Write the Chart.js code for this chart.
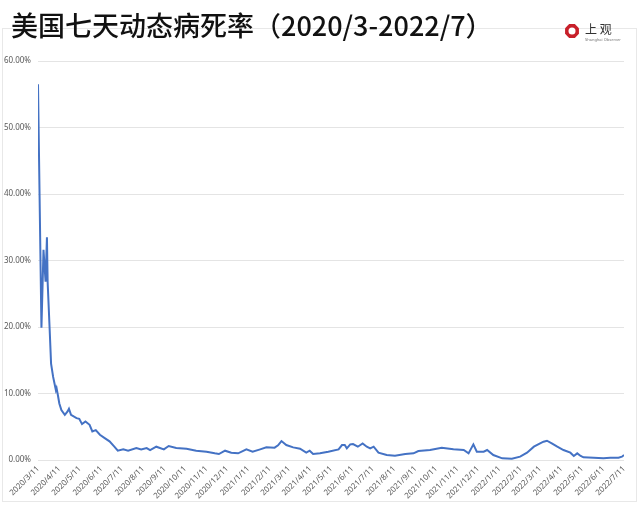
<!DOCTYPE html>
<html>
<head>
<meta charset="utf-8">
<script src="https://cdn.jsdelivr.net/npm/chart.js@4.4.0/dist/chart.umd.min.js"></script>
<style>
    html, body { margin: 0; padding: 0; background: #fff; }
    #wrap { width: 640px; height: 506px; position: relative; }
</style>
</head>
<body>
<div id="wrap"><canvas id="cfrChart"></canvas></div>
<script>
// days since 2020/3/11
const days = [0, 5, 8, 11, 13, 14, 17, 19, 22, 24, 26, 27, 29, 31, 34, 39, 43, 45, 48, 56,
    60, 64, 69, 75, 79, 84, 90, 97, 104, 111, 116, 124, 131, 143, 150, 158, 163, 172, 183, 190,
    201, 216, 230, 245, 257, 263, 272, 281, 291, 303, 312, 323, 332, 344, 349, 354, 361, 371, 381, 390,
    395, 400, 410, 422, 437, 442, 446, 449, 454, 458, 465, 472, 478, 483, 488, 495, 507, 519, 534, 546,
    553, 570, 587, 604, 619, 626, 633, 638, 648, 653, 662, 675, 689, 701, 711, 721, 730, 735, 740, 747,
    755, 764, 774, 779, 784, 789, 793, 808, 822, 832, 844, 849, 852];

// seven-day case fatality rate, %
const rates = [56.5, 19.9, 31.6, 26.8, 33.5, 26.8, 19.5, 14.5, 12.5, 11.5, 10.5, 10.8, 9.7, 8.5, 7.5, 6.8, 7.3, 7.7, 6.8, 6.3,
    6.2, 5.4, 5.8, 5.3, 4.3, 4.5, 3.8, 3.3, 2.8, 2.0, 1.4, 1.6, 1.4, 1.8, 1.6, 1.8, 1.5, 2.0, 1.6, 2.1,
    1.8, 1.7, 1.4, 1.25, 1.0, 0.9, 1.4, 1.1, 1.0, 1.6, 1.25, 1.6, 1.9, 1.85, 2.2, 2.85, 2.25, 1.9, 1.7, 1.1,
    1.4, 0.9, 1.0, 1.25, 1.6, 2.25, 2.25, 1.75, 2.35, 2.4, 2.0, 2.5, 2.0, 1.75, 2.0, 1.1, 0.75, 0.65, 0.9, 1.0,
    1.35, 1.5, 1.85, 1.6, 1.5, 1.0, 2.35, 1.25, 1.25, 1.5, 0.75, 0.25, 0.2, 0.5, 1.1, 2.0, 2.5, 2.75, 2.9, 2.5,
    2.0, 1.5, 1.1, 0.6, 1.0, 0.6, 0.4, 0.35, 0.25, 0.35, 0.35, 0.5, 0.75];

const tickLabels = ['2020/3/11', '2020/4/11', '2020/5/11', '2020/6/11', '2020/7/11', '2020/8/11', '2020/9/11',
    '2020/10/11', '2020/11/11', '2020/12/11', '2021/1/11', '2021/2/11', '2021/3/11', '2021/4/11', '2021/5/11',
    '2021/6/11', '2021/7/11', '2021/8/11', '2021/9/11', '2021/10/11', '2021/11/11', '2021/12/11', '2022/1/11',
    '2022/2/11', '2022/3/11', '2022/4/11', '2022/5/11', '2022/6/11', '2022/7/11'];

const titleText = '美国七天动态病死率（2020/3-2022/7）';

function toDay(label) {
    const p = label.split('/').map(Number);
    const start = new Date(2020, 2, 11);
    return Math.round((new Date(p[0], p[1] - 1, p[2]) - start) / 86400000);
}
const tickDays = tickLabels.map(toDay);

// title, frame and logo
const decorPlugin = {
    id: 'decor',
    beforeDraw(chart) {
        const ctx = chart.ctx;
        ctx.save();
        ctx.fillStyle = '#fff';
        ctx.fillRect(0, 0, chart.width, chart.height);
        ctx.strokeStyle = '#e8e8e8';
        ctx.lineWidth = 1;
        ctx.strokeRect(2.5, 28.5, 634, 473);
        ctx.restore();
    },
    afterDraw(chart) {
        const ctx = chart.ctx;
        ctx.save();
        ctx.fillStyle = '#111';
        ctx.font = '500 27px "Noto Sans CJK SC"';
        ctx.textBaseline = 'middle';
        ctx.fillText(titleText, 11, 26);

        // logo mark
        const cx = 572, cy = 31;
        ctx.beginPath();
        for (let i = 0; i < 8; i++) {
            const a = Math.PI / 8 + i * Math.PI / 4;
            const px = cx + 7.5 * Math.cos(a), py = cy + 7.5 * Math.sin(a);
            i ? ctx.lineTo(px, py) : ctx.moveTo(px, py);
        }
        ctx.closePath();
        ctx.fillStyle = '#c8202a';
        ctx.fill();
        ctx.beginPath();
        ctx.arc(cx, cy, 3.5, 0, Math.PI * 2);
        ctx.fillStyle = '#fff';
        ctx.fill();

        ctx.fillStyle = '#333';
        ctx.font = '12px "Noto Sans CJK SC"';
        ctx.fillText('上 观', 585, 29);
        ctx.font = '4px "Noto Sans"';
        ctx.fillStyle = '#777';
        ctx.fillText('Shanghai Observer', 585, 40);
        ctx.restore();
    }
};

const ctx = document.getElementById('cfrChart').getContext('2d');
const cfrChart = new Chart(ctx, {
    type: 'line',
    data: {
        datasets: [{
            data: days.map((d, i) => ({ x: d, y: rates[i] })),
            borderColor: '#4472C4',
            borderWidth: 2,
            pointRadius: 0,
            tension: 0,
            fill: false
        }]
    },
    options: {
        responsive: true,
        maintainAspectRatio: false,
        animation: false,
        plugins: {
            legend: { display: false },
            tooltip: { enabled: false }
        },
        layout: {
            padding: {
                top: 61,
                bottom: 0,
                left: 2,
                right: 16
            }
        },
        scales: {
            x: {
                type: 'linear',
                min: 0,
                max: tickDays[tickDays.length - 1],
                afterBuildTicks: scale => {
                    scale.ticks = tickDays.map(v => ({ value: v }));
                },
                afterFit: scale => {
                    scale.height = 46;
                },
                ticks: {
                    autoSkip: false,
                    minRotation: 45,
                    maxRotation: 45,
                    padding: 4,
                    color: '#595959',
                    font: {
                        family: 'Noto Sans',
                        size: 8
                    },
                    callback: (value, index) => tickLabels[index]
                },
                grid: {
                    display: false,
                    drawTicks: false
                },
                border: {
                    display: false
                }
            },
            y: {
                min: 0,
                max: 60,
                afterFit: scale => {
                    scale.width = 36;
                },
                ticks: {
                    stepSize: 10,
                    padding: 7,
                    color: '#595959',
                    font: {
                        family: 'Noto Sans',
                        size: 8
                    },
                    callback: v => v.toFixed(2) + '%'
                },
                grid: {
                    color: '#e4e4e4',
                    drawTicks: false
                },
                border: {
                    display: false
                }
            }
        }
    },
    plugins: [decorPlugin]
});
</script>
</body>
</html>
